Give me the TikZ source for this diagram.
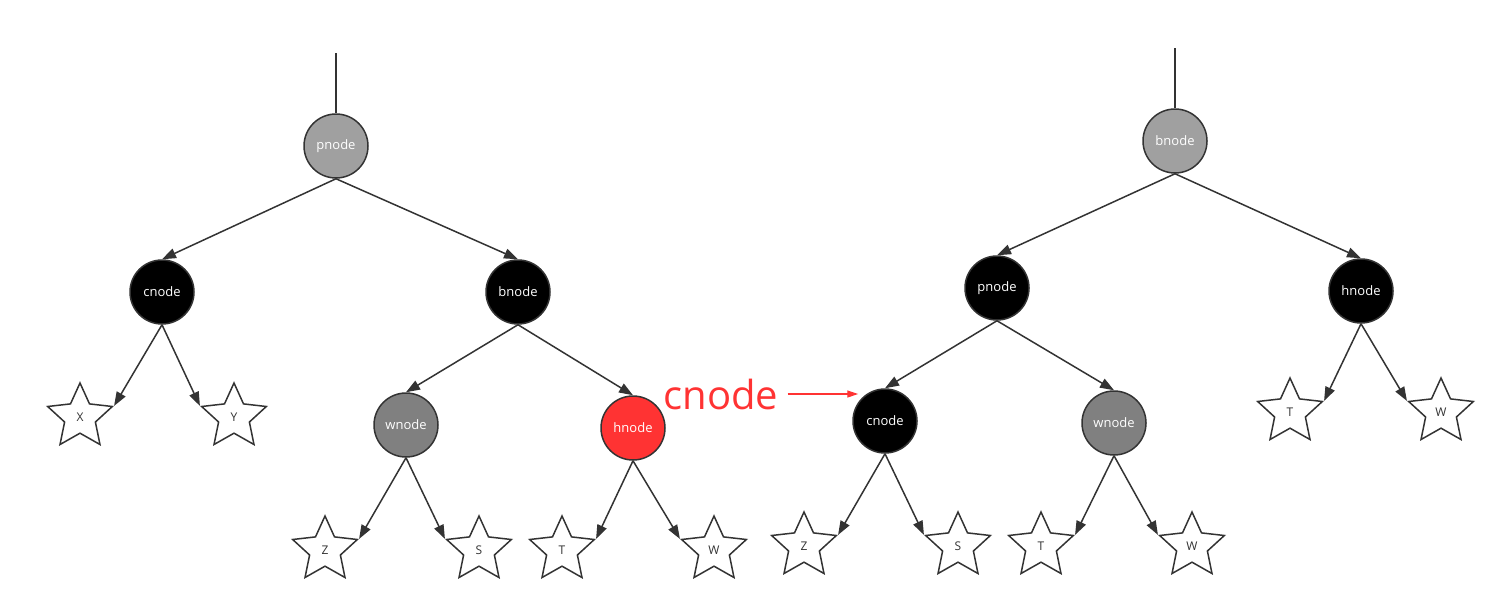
\documentclass[tikz,border=0pt]{standalone}
\usepackage{fontspec}
\setmainfont{Open Sans}
\usetikzlibrary{arrows.meta,shapes.geometric}
\definecolor{linegray}{RGB}{51,51,51}
\definecolor{lightfill}{RGB}{160,160,160}
\definecolor{midfill}{RGB}{128,128,128}
\definecolor{hotred}{RGB}{255,51,51}
\tikzset{
  rb/.style    = {circle, minimum size=64pt, inner sep=0pt, draw=linegray, line width=1.5pt, text=white, font=\fontsize{13}{15}\selectfont},
  blk/.style   = {rb, fill=black},
  lgr/.style   = {rb, fill=lightfill},
  mgr/.style   = {rb, fill=midfill},
  hot/.style   = {rb, fill=hotred},
  leaf/.style  = {star, star points=5, star point ratio=2.1, minimum size=68pt, inner sep=0pt, draw=linegray, line width=1.5pt, fill=white, text=linegray, font=\fontsize{12}{14}\selectfont},
  wire/.style  = {line width=1.5pt, draw=linegray},
  flow/.style  = {-{Triangle[length=14pt,width=10pt]}, line width=1.5pt, draw=linegray},
  redflow/.style = {-{Triangle[length=11pt,width=7pt]}, line width=1.2pt, draw=hotred},
}

\begin{document}
\begin{tikzpicture}[x=1pt,y=-1pt]
  \useasboundingbox (0,0) rectangle (1504,613);
  % left tree
  \coordinate (topL) at (336,53);
  \node[lgr] (pL) at (336,146) {pnode};
  \node[blk] (cL) at (162,292) {cnode};
  \node[blk] (bL) at (518,292) {bnode};
  \node[mgr] (wL) at (406,425) {wnode};
  \node[hot] (hL) at (633,428) {hnode};
  \node[leaf] (xL) at (80,417) {X};
  \node[leaf] (yL) at (234,417) {Y};
  \node[leaf] (zL) at (325,550) {Z};
  \node[leaf] (sL) at (479,550) {S};
  \node[leaf] (tL) at (562,550) {T};
  \node[leaf] (vL) at (714,550) {W};
  \draw[wire] (topL) -- (pL);
  \draw[flow] (pL.south) -- (cL.north);
  \draw[flow] (pL.south) -- (bL.north);
  \draw[flow] (cL.south) -- (xL.outer point 5);
  \draw[flow] (cL.south) -- (yL.outer point 2);
  \draw[flow] (bL.south) -- (wL.north);
  \draw[flow] (bL.south) -- (hL.north);
  \draw[flow] (wL.south) -- (zL.outer point 5);
  \draw[flow] (wL.south) -- (sL.outer point 2);
  \draw[flow] (hL.south) -- (tL.outer point 5);
  \draw[flow] (hL.south) -- (vL.outer point 2);
  % right tree
  \coordinate (topR) at (1175,48);
  \node[lgr] (bR) at (1175,141) {bnode};
  \node[blk] (pR) at (997,288) {pnode};
  \node[blk] (hR) at (1361,291) {hnode};
  \node[blk] (cR) at (885,421) {cnode};
  \node[mgr] (wR) at (1114,423) {wnode};
  \node[leaf] (zR) at (804,546) {Z};
  \node[leaf] (sR) at (958,546) {S};
  \node[leaf] (tR) at (1041,546) {T};
  \node[leaf] (vR) at (1192,546) {W};
  \node[leaf] (t2R) at (1290,412) {T};
  \node[leaf] (v2R) at (1441,412) {W};
  \draw[wire] (topR) -- (bR);
  \draw[flow] (bR.south) -- (pR.north);
  \draw[flow] (bR.south) -- (hR.north);
  \draw[flow] (pR.south) -- (cR.north);
  \draw[flow] (pR.south) -- (wR.north);
  \draw[flow] (cR.south) -- (zR.outer point 5);
  \draw[flow] (cR.south) -- (sR.outer point 2);
  \draw[flow] (wR.south) -- (tR.outer point 5);
  \draw[flow] (wR.south) -- (vR.outer point 2);
  \draw[flow] (hR.south) -- (t2R.outer point 5);
  \draw[flow] (hR.south) -- (v2R.outer point 2);
  % moved node
  \node[text=hotred, font=\fontsize{40}{44}\selectfont, inner sep=0pt] (lbl) at (721,394) {cnode};
  \draw[redflow, shorten <=9pt] (lbl.east) -- ([xshift=6pt]cR.west |- lbl.east);
\end{tikzpicture}
\end{document}
